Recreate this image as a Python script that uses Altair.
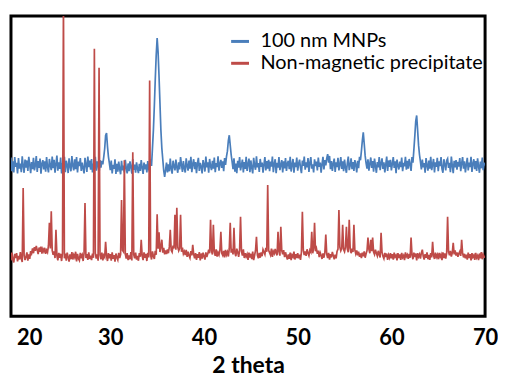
import altair as alt
import pandas as pd

# 2-theta sampling of both patterns
X_START = 19.4
X_STEP = 0.1

SERIES = ["100 nm MNPs", "Non-magnetic precipitate"]
COLORS = ["#4a7ebb", "#be4b48"]
TICKS = [20, 30, 40, 50, 60, 70]

# intensity (arbitrary units); first row 19.4-19.9, then one row per degree n.0 ... n.9
blue = [
    52.9, 48.3, 51.6, 47.9, 53.0, 49.8,
    51.1, 47.6, 52.7, 49.2, 50.9, 48.0, 53.3, 50.1, 47.8, 52.2,   # 20
    49.5, 51.9, 48.4, 53.1, 50.6, 47.7, 51.4, 49.0, 52.8, 48.6,   # 21
    50.3, 53.4, 48.1, 51.7, 49.4, 52.5, 47.5, 50.8, 52.0, 48.9,   # 22
    51.6, 48.2, 53.0, 49.7, 47.9, 52.4, 50.2, 48.7, 53.2, 49.3,   # 23
    52.1, 47.8, 50.7, 53.5, 48.5, 51.3, 49.1, 52.9, 47.6, 51.0,   # 24
    49.6, 53.1, 48.0, 51.8, 50.4, 47.7, 52.6, 49.9, 48.3, 53.4,   # 25
    50.2, 48.6, 52.3, 49.0, 53.0, 47.9, 51.5, 50.0, 52.7, 48.4,   # 26
    51.2, 49.3, 47.6, 52.8, 50.5, 48.1, 53.2, 49.7, 51.9, 48.8,   # 27
    52.4, 47.9, 50.9, 49.2, 53.1, 48.5, 51.6, 50.3, 47.7, 52.0,   # 28
    49.5, 51.8, 50.6, 53.0, 55.8, 60.2, 61.0, 56.5, 53.2, 51.0,   # 29
    48.7, 51.9, 47.6, 50.4, 49.1, 52.3, 47.4, 50.8, 48.2, 51.5,   # 30
    49.0, 47.3, 51.8, 48.6, 50.2, 47.9, 52.1, 49.4, 47.6, 50.9,   # 31
    48.3, 51.6, 49.7, 47.5, 52.4, 48.8, 50.5, 47.8, 51.3, 49.2,   # 32
    47.7, 50.8, 48.4, 52.0, 49.5, 47.4, 51.2, 48.9, 50.6, 47.9,   # 33
    51.7, 49.0, 48.2, 52.3, 50.1, 56.0, 62.0, 70.0, 79.0, 87.0,   # 34
    92.7, 88.0, 80.0, 71.0, 62.0, 56.0, 52.3, 48.6, 46.4, 48.8,   # 35
    51.2, 47.9, 50.6, 48.3, 52.5, 49.1, 47.5, 51.8, 50.0, 48.6,   # 36
    52.2, 49.6, 47.8, 51.3, 48.9, 53.0, 50.4, 48.1, 51.7, 49.3,   # 37
    47.9, 52.6, 50.1, 48.5, 51.9, 49.2, 53.1, 48.0, 50.7, 52.3,   # 38
    49.0, 51.4, 47.7, 50.9, 52.8, 48.4, 51.1, 49.8, 47.6, 52.0,   # 39
    50.5, 48.2, 53.2, 49.6, 51.3, 47.8, 52.4, 50.0, 48.7, 51.8,   # 40
    49.2, 52.9, 48.0, 51.0, 49.7, 53.3, 48.5, 50.8, 52.1, 49.4,   # 41
    51.6, 48.3, 52.7, 50.4, 53.2, 55.0, 58.5, 60.3, 57.0, 53.8,   # 42
    51.5, 49.0, 52.6, 48.2, 50.9, 47.7, 51.8, 49.5, 53.0, 48.6,   # 43
    50.3, 52.2, 47.9, 51.4, 49.1, 53.1, 48.4, 50.7, 52.5, 48.0,   # 44
    51.9, 49.4, 47.6, 52.8, 50.2, 48.8, 53.3, 49.6, 51.0, 48.1,   # 45
    52.4, 49.8, 51.2, 47.8, 50.6, 53.0, 48.6, 51.7, 49.2, 52.1,   # 46
    48.3, 51.5, 49.9, 53.2, 48.0, 50.8, 52.3, 47.7, 51.1, 49.5,   # 47
    53.0, 48.7, 50.4, 52.0, 47.9, 51.6, 49.3, 52.7, 48.4, 50.9,   # 48
    51.8, 49.0, 53.1, 48.2, 50.5, 52.4, 47.8, 51.2, 49.7, 52.9,   # 49
    48.5, 50.8, 52.2, 49.4, 47.7, 51.9, 50.1, 53.2, 48.8, 51.3,   # 50
    49.6, 52.7, 48.1, 51.0, 53.0, 49.2, 50.6, 47.9, 52.3, 50.0,   # 51
    51.5, 48.6, 52.9, 49.8, 51.2, 47.8, 50.7, 53.1, 48.9, 52.0,   # 52
    50.3, 52.6, 54.0, 51.2, 53.4, 49.0, 51.7, 48.4, 50.9, 52.5,   # 53
    48.1, 51.3, 49.7, 52.8, 48.6, 50.5, 53.0, 49.1, 51.6, 48.3,   # 54
    52.2, 49.5, 47.8, 51.0, 53.2, 48.7, 50.2, 52.6, 49.0, 51.4,   # 55
    48.4, 52.0, 50.6, 47.9, 51.8, 49.3, 53.1, 52.0, 55.0, 58.5,   # 56
    61.3, 57.5, 53.5, 51.0, 49.2, 52.3, 48.5, 50.8, 52.9, 49.4,   # 57
    51.7, 48.2, 52.5, 50.1, 47.8, 51.4, 49.6, 53.0, 48.7, 50.9,   # 58
    52.6, 49.1, 51.3, 47.9, 50.5, 53.2, 48.4, 51.9, 49.8, 52.1,   # 59
    48.6, 50.8, 53.0, 49.4, 51.6, 47.7, 52.2, 50.3, 48.9, 51.5,   # 60
    49.7, 52.9, 48.3, 51.1, 50.0, 53.1, 48.8, 51.8, 49.2, 52.4,   # 61
    50.6, 48.4, 53.0, 51.2, 55.5, 60.0, 65.0, 66.9, 62.0, 57.0,   # 62
    53.8, 51.5, 48.9, 52.2, 49.6, 51.0, 47.8, 52.7, 50.3, 48.5,   # 63
    51.9, 49.2, 53.1, 48.7, 50.6, 52.4, 47.9, 51.3, 49.8, 52.8,   # 64
    48.3, 51.6, 50.0, 53.0, 49.1, 47.8, 52.3, 50.7, 48.6, 51.9,   # 65
    52.5, 49.4, 51.1, 48.0, 53.2, 50.2, 47.7, 51.8, 49.6, 52.0,   # 66
    48.8, 51.4, 49.9, 52.7, 48.3, 50.9, 53.0, 49.2, 51.6, 47.9,   # 67
    50.5, 52.8, 48.6, 51.2, 49.7, 53.1, 48.1, 50.8, 52.3, 49.0,   # 68
    51.7, 48.4, 52.6, 50.0, 47.8, 51.5, 49.3, 52.9, 48.7, 51.1,   # 69
    50.2,
]

red = [
    18.6, 21.2, 19.0, 17.9, 20.8, 19.4,
    21.0, 18.3, 20.1, 18.9, 21.4, 19.2, 18.1, 42.7, 20.3, 18.7,   # 20
    19.8, 21.3, 18.5, 20.6, 19.1, 21.7, 20.9, 22.6, 21.0, 23.0,   # 21
    21.8, 23.4, 22.1, 20.7, 22.9, 21.5, 23.2, 20.9, 22.4, 21.6,   # 22
    22.8, 20.8, 22.0, 21.3, 23.5, 31.1, 22.6, 35.0, 21.9, 20.5,   # 23
    21.6, 19.4, 28.8, 20.2, 18.6, 21.1, 19.5, 20.8, 18.4, 21.0,   # 24
    105.0, 19.3, 20.9, 18.5, 21.2, 19.7, 18.2, 20.6, 19.0, 21.4,  # 25
    18.9, 20.4, 19.6, 21.5, 18.3, 20.8, 19.2, 18.6, 21.1, 19.8,   # 26
    20.5, 18.4, 21.0, 37.7, 19.4, 20.7, 18.8, 21.3, 19.1, 20.2,   # 27
    18.7, 20.9, 19.5, 89.1, 21.0, 19.2, 20.6, 18.5, 82.8, 20.4,   # 28
    19.0, 21.2, 18.6, 20.3, 19.7, 24.8, 20.1, 18.4, 21.0, 19.3,   # 29
    20.7, 18.5, 21.3, 19.1, 20.4, 18.2, 20.9, 19.6, 18.8, 21.1,   # 30
    19.4, 20.6, 38.7, 22.0, 21.5, 52.0, 20.8, 19.2, 21.0, 18.7,   # 31
    20.3, 19.0, 21.4, 18.6, 54.6, 20.5, 19.3, 21.2, 18.9, 20.1,   # 32
    18.5, 21.0, 19.8, 25.5, 20.2, 18.7, 21.3, 19.5, 20.8, 18.4,   # 33
    21.1, 19.6, 78.5, 20.4, 18.9, 21.6, 20.0, 19.1, 21.8, 20.5,   # 34
    34.0, 22.5, 28.0, 21.4, 23.0, 25.5, 21.2, 22.8, 20.6, 21.9,   # 35
    20.7, 22.3, 21.0, 23.1, 28.8, 22.0, 21.4, 23.5, 22.6, 33.8,   # 36
    22.2, 36.1, 23.0, 21.8, 22.6, 33.8, 21.5, 22.9, 20.8, 21.6,   # 37
    20.4, 22.1, 19.8, 21.5, 20.2, 19.4, 21.7, 20.3, 23.8, 20.6,   # 38
    19.3, 21.0, 18.8, 20.7, 19.5, 21.4, 18.6, 20.9, 19.2, 21.2,   # 39
    20.0, 18.9, 21.3, 19.7, 20.8, 22.2, 21.0, 32.1, 21.8, 20.6,   # 40
    30.5, 21.5, 20.1, 22.3, 19.9, 21.2, 20.4, 22.0, 28.1, 21.0,   # 41
    20.3, 21.8, 19.6, 22.1, 20.5, 21.4, 19.9, 22.6, 31.1, 21.2,   # 42
    22.4, 20.6, 29.5, 21.1, 20.0, 22.5, 21.3, 19.8, 22.0, 33.1,   # 43
    21.7, 20.2, 22.3, 19.4, 21.0, 19.9, 20.7, 18.8, 21.2, 19.6,   # 44
    20.8, 19.0, 21.5, 18.7, 20.3, 21.9, 26.5, 20.4, 19.3, 21.1,   # 45
    19.5, 21.3, 20.0, 22.2, 21.4, 20.6, 22.8, 21.5, 43.7, 22.0,   # 46
    21.2, 20.4, 22.5, 19.8, 21.6, 20.9, 22.4, 21.0, 20.3, 28.1,   # 47
    21.5, 20.2, 29.8, 21.9, 20.6, 22.0, 19.7, 21.3, 20.0, 18.9,   # 48
    20.6, 19.1, 21.2, 18.7, 20.4, 19.8, 21.5, 18.9, 20.7, 19.4,   # 49
    21.0, 19.3, 20.5, 18.8, 21.4, 34.8, 22.0, 20.4, 21.6, 20.1,   # 50
    22.3, 21.1, 20.2, 22.0, 21.4, 28.1, 21.0, 22.5, 31.1, 21.7,   # 51
    22.6, 20.8, 21.9, 19.7, 21.2, 20.3, 19.1, 20.9, 19.5, 21.3,   # 52
    27.2, 20.6, 19.4, 21.1, 18.9, 20.7, 19.6, 21.4, 20.2, 19.0,   # 53
    20.5, 19.3, 21.6, 22.4, 35.4, 23.0, 21.8, 22.6, 30.5, 22.2,   # 54
    21.5, 23.0, 29.8, 22.4, 21.3, 32.1, 22.7, 21.0, 22.5, 21.4,   # 55
    30.5, 22.1, 20.8, 21.9, 20.3, 21.5, 19.8, 20.9, 19.4, 21.2,   # 56
    20.0, 21.6, 19.5, 20.8, 21.9, 26.2, 22.3, 21.0, 25.5, 21.7,   # 57
    26.2, 21.4, 20.6, 22.2, 21.0, 20.1, 21.8, 20.5, 19.6, 27.8,   # 58
    21.3, 20.0, 19.2, 21.1, 19.7, 20.9, 18.8, 20.4, 19.5, 21.0,   # 59
    19.3, 20.7, 18.9, 21.2, 19.8, 20.3, 18.6, 21.0, 19.4, 20.6,   # 60
    18.8, 21.1, 19.6, 20.2, 18.7, 21.3, 19.9, 20.5, 19.1, 20.8,   # 61
    19.5, 26.2, 20.4, 19.0, 21.2, 19.7, 20.9, 18.6, 21.0, 19.8,   # 62
    20.6, 19.2, 21.1, 22.2, 20.0, 18.9, 20.7, 19.5, 21.3, 19.0,   # 63
    20.4, 18.8, 21.0, 19.6, 24.8, 20.3, 19.1, 21.2, 19.7, 20.5,   # 64
    19.0, 21.1, 19.8, 20.6, 18.7, 21.3, 19.4, 20.9, 19.2, 21.0,   # 65
    33.1, 21.5, 20.3, 21.8, 19.9, 21.1, 24.5, 20.6, 21.9, 20.2,   # 66
    21.3, 19.8, 20.9, 21.6, 20.1, 25.5, 21.0, 19.6, 20.8, 19.3,   # 67
    20.5, 18.9, 21.2, 19.4, 20.7, 18.6, 21.0, 19.7, 20.3, 18.8,   # 68
    21.1, 19.5, 20.2, 18.7, 20.9, 19.3, 21.4, 19.0, 20.6, 19.8,   # 69
    19.6,
]

theta = [round(X_START + i * X_STEP, 1) for i in range(len(blue))]
df = pd.DataFrame({
    "theta": theta + theta,
    "intensity": blue + red,
    "series": [SERIES[0]] * len(blue) + [SERIES[1]] * len(red),
})

FONT = "Lato"

chart = alt.Chart(df).mark_line(strokeWidth=1.7, clip=True).encode(
    x=alt.X(
        "theta:Q",
        scale=alt.Scale(domain=[19.4, 70], nice=False, zero=False),
        axis=alt.Axis(
            values=TICKS, title="2 theta", grid=False, ticks=False, domain=False,
            labelFont=FONT, labelFontSize=22, labelFontWeight="bold", labelColor="black",
            labelPadding=11,
            labelAlign={"condition": {"test": "datum.value == 20", "value": "left"}, "value": "center"},
            titleFont=FONT, titleFontSize=23, titleFontWeight="bold", titleColor="black",
            titlePadding=7,
        ),
    ),
    y=alt.Y("intensity:Q", scale=alt.Scale(domain=[0, 100], nice=False), axis=None),
    color=alt.Color(
        "series:N",
        scale=alt.Scale(domain=SERIES, range=COLORS),
        legend=alt.Legend(
            title=None, orient="none", legendX=220, legendY=15,
            symbolType="stroke", symbolSize=324, symbolStrokeWidth=3,
            labelFont=FONT, labelFontSize=20, labelColor="black", labelOffset=10,
            labelLimit=0, rowPadding=1,
        ),
    ),
).properties(
    width=477, height=302,
    padding={"left": 3, "top": 7, "right": 0, "bottom": 0},
    background="white",
).configure_view(stroke="black", strokeWidth=3)

chart.save("out.html", embed_options={"renderer": "svg", "actions": False})
